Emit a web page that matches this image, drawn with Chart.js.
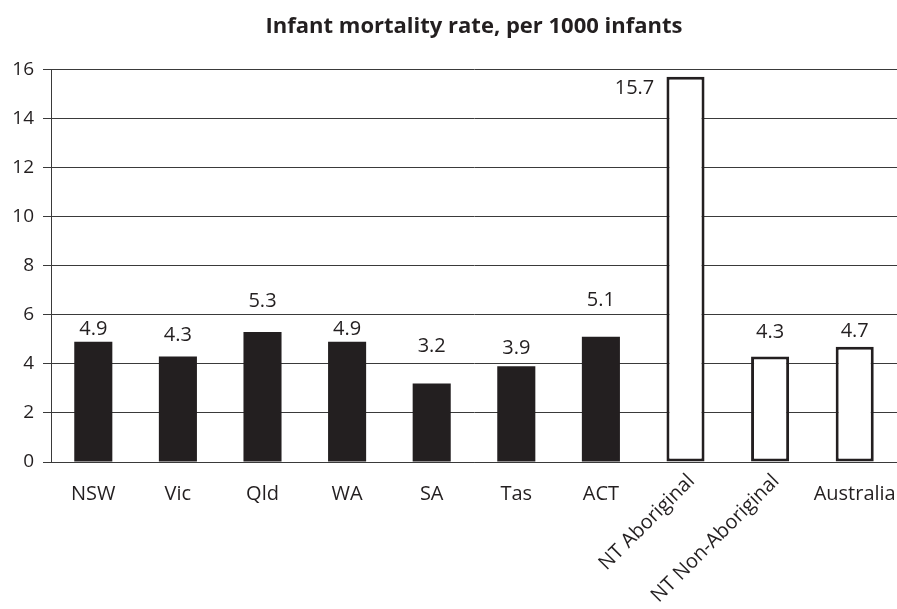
<!DOCTYPE html>
<html>
<head>
<meta charset="utf-8">
<script src="https://cdn.jsdelivr.net/npm/chart.js@4.4.1/dist/chart.umd.min.js"></script>
<style>
    html, body { margin: 0; padding: 0; background: #fff; }
    #wrap { width: 897px; height: 609px; }
</style>
</head>
<body>
<div id="wrap"><canvas id="mortalityChart"></canvas></div>
<script>
// Данные диаграммы
const categories = ["NSW", "Vic", "Qld", "WA", "SA", "Tas", "ACT", "NT Aboriginal", "NT Non-Aboriginal", "Australia"];
const rates = [4.9, 4.3, 5.3, 4.9, 3.2, 3.9, 5.1, 15.7, 4.3, 4.7];
const valueLabels = ["4.9", "4.3", "5.3", "4.9", "3.2", "3.9", "5.1", "15.7", "4.3", "4.7"];
const hollowBars = ["NT Aboriginal", "NT Non-Aboriginal", "Australia"];
const rotatedLabels = ["NT Aboriginal", "NT Non-Aboriginal"];
const yTicks = [0, 2, 4, 6, 8, 10, 12, 14, 16];

const INK = "#231f20";
const FONT = "'Open Sans', sans-serif";

// Смещение подписей значений относительно верха столбца (px)
const labelShift = [
    { dx: 0, dy: 12 }, { dx: 0, dy: 21 }, { dx: 0, dy: 31 }, { dx: 0, dy: 12 },
    { dx: 0, dy: 37 }, { dx: 0, dy: 18 }, { dx: 0, dy: 37 }, { dx: -51, dy: -12 },
    { dx: 0, dy: 24 }, { dx: 0, dy: 15 }
];

// Подписи значений над столбцами
const valueLabelPlugin = {
    id: "valueLabels",
    afterDatasetsDraw(chart) {
        const { ctx } = chart;
        const meta = chart.getDatasetMeta(0);
        ctx.save();
        ctx.font = "20px " + FONT;
        ctx.fillStyle = INK;
        ctx.textAlign = "center";
        ctx.textBaseline = "middle";
        meta.data.forEach((bar, i) => {
            const s = labelShift[i];
            ctx.fillText(valueLabels[i], bar.x + s.dx, bar.y - s.dy);
        });
        ctx.restore();
    }
};

// Повёрнутые подписи категорий
const rotatedTickPlugin = {
    id: "rotatedTicks",
    afterDraw(chart) {
        const { ctx } = chart;
        const xScale = chart.scales.x;
        ctx.save();
        ctx.font = "20px " + FONT;
        ctx.fillStyle = INK;
        ctx.textAlign = "right";
        ctx.textBaseline = "middle";
        categories.forEach((cat, i) => {
            if (!rotatedLabels.includes(cat)) return;
            const x = xScale.getPixelForValue(i);
            ctx.save();
            ctx.translate(x + 6, xScale.top + 16);
            ctx.rotate(-Math.PI / 4);
            ctx.fillText(cat, 0, 0);
            ctx.restore();
        });
        ctx.restore();
    }
};

const ctx = document.getElementById("mortalityChart").getContext("2d");

new Chart(ctx, {
    type: "bar",
    data: {
        labels: categories,
        datasets: [{
            label: "Infant mortality rate",
            data: rates,
            backgroundColor: categories.map(c => hollowBars.includes(c) ? "#ffffff" : INK),
            borderColor: INK,
            borderWidth: categories.map(c => hollowBars.includes(c) ? 3 : 0),
            borderSkipped: false,
            barPercentage: 0.45,
            categoryPercentage: 1.0
        }]
    },
    options: {
        responsive: true,
        maintainAspectRatio: false,
        animation: false,
        layout: { padding: 0 },
        scales: {
            x: {
                grid: { display: false, drawTicks: false },
                border: { display: true, color: "#3a3a3a", width: 1 },
                ticks: {
                    autoSkip: false,
                    maxRotation: 0,
                    minRotation: 0,
                    padding: 20,
                    color: INK,
                    font: { family: FONT, size: 20 },
                    callback: (v, i) => rotatedLabels.includes(categories[i]) ? "" : categories[i]
                },
                afterFit: scale => {
                    scale.height = 147;
                    scale.paddingLeft = 0;
                    scale.paddingRight = 0;
                }
            },
            y: {
                min: 0,
                max: 16,
                afterBuildTicks: scale => { scale.ticks = yTicks.map(v => ({ value: v })); },
                grid: { color: "#3a3a3a", lineWidth: 1, tickLength: 8 },
                border: { display: true, color: "#3a3a3a", width: 1 },
                ticks: {
                    padding: 9,
                    color: INK,
                    font: { family: FONT, size: 19 }
                },
                afterFit: scale => { scale.width = 51; }
            }
        },
        plugins: {
            legend: { display: false },
            tooltip: { enabled: false },
            title: {
                display: true,
                text: "Infant mortality rate, per 1000 infants",
                fullSize: false,
                color: INK,
                font: { family: FONT, size: 22, weight: "bold", lineHeight: 1.2 },
                padding: { top: 14, bottom: 29 }
            }
        }
    },
    plugins: [valueLabelPlugin, rotatedTickPlugin]
});
</script>
</body>
</html>
